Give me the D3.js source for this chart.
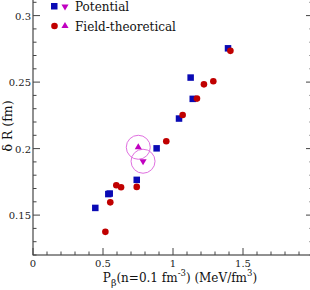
<!DOCTYPE html>
<html>
<head>
<meta charset="utf-8">
<script src="https://cdn.jsdelivr.net/npm/d3@7"></script>
<style>
  body { margin: 0; background: #fff; }
  svg { display: block; }
</style>
</head>
<body>
<svg id="chart" width="310" height="290"></svg>
<script>
// data: [P_beta, delta R]
const potential = [
  [1.393, 0.2754], [1.126, 0.2534], [1.141, 0.2374], [1.043, 0.2226],
  [0.883, 0.2002], [0.741, 0.1765], [0.538, 0.1658], [0.548, 0.1662],
  [0.445, 0.1554]
];
const fieldTheo = [
  [1.41, 0.2735], [1.221, 0.2483], [1.288, 0.2506], [1.171, 0.2376],
  [1.069, 0.2253], [0.952, 0.2055], [0.741, 0.1712], [0.595, 0.1724],
  [0.629, 0.1709], [0.552, 0.1596], [0.517, 0.1374]
];
const potentialAvg = [[0.786, 0.1905]];
const fieldAvg = [[0.752, 0.2010]];
const xTicks = [0, 0.5, 1, 1.5];
const yTicks = [0.15, 0.2, 0.25, 0.3];
const legendNames = ["Potential", "Field-theoretical"];

const CONFIG = {
  left: 33, right: 313, top: -11, bottom: 255,
  font: "'DejaVu Serif', 'Liberation Serif', serif",
  blue: '#0a0ab4', red: '#c00000', magenta: '#c000c0', ring: '#e070e0'
};

const svg = d3.select('#chart');
const x = d3.scaleLinear().domain([0, 2]).range([CONFIG.left, CONFIG.right]);
const y = d3.scaleLinear().domain([0.12, 0.32]).range([CONFIG.bottom, CONFIG.top]);

// frame
svg.append('rect')
  .attr('x', CONFIG.left).attr('y', CONFIG.top)
  .attr('width', CONFIG.right - CONFIG.left).attr('height', CONFIG.bottom - CONFIG.top)
  .attr('fill', 'none').attr('stroke', '#222').attr('stroke-width', 1);

const xMinor = d3.range(0, 2.001, 0.1);
const yMinor = d3.range(0.12, 0.3201, 0.01);

// ticks pointing inward
const ticks = svg.append('g').attr('stroke', '#444').attr('stroke-width', 1);
xMinor.forEach(v => {
  const major = xTicks.some(t => Math.abs(t - v) < 1e-6);
  const len = major ? 7 : 3.5;
  ticks.append('line').attr('x1', x(v)).attr('x2', x(v)).attr('y1', CONFIG.bottom).attr('y2', CONFIG.bottom - len);
});
yMinor.forEach(v => {
  const major = yTicks.some(t => Math.abs(t - v) < 1e-6);
  const len = major ? 7 : 3.5;
  ticks.append('line').attr('y1', y(v)).attr('y2', y(v)).attr('x1', CONFIG.left).attr('x2', CONFIG.left + len);
  ticks.append('line').attr('y1', y(v)).attr('y2', y(v)).attr('x1', CONFIG.right).attr('x2', CONFIG.right - len);
});

svg.selectAll('.xLabel').data(xTicks).enter().append('text')
  .text(d => d)
  .attr('x', d => x(d)).attr('y', CONFIG.bottom + 12)
  .attr('font-family', CONFIG.font)
  .attr('font-size', 10).attr('text-anchor', 'middle').attr('fill', '#222');

svg.selectAll('.yLabel').data(yTicks).enter().append('text')
  .text(d => d)
  .attr('x', CONFIG.left - 2).attr('y', d => y(d) + 4)
  .attr('font-family', CONFIG.font)
  .attr('font-size', 10).attr('text-anchor', 'end').attr('fill', '#222');

// axis titles
const xt = svg.append('text')
  .attr('x', 180).attr('y', 282)
  .attr('font-family', CONFIG.font)
  .attr('font-size', 12).attr('text-anchor', 'middle').attr('fill', '#111');
xt.append('tspan').text('P');
xt.append('tspan').text('β').attr('font-size', 9.5).attr('dy', 4);
xt.append('tspan').text('(n=0.1 fm').attr('dy', -4);
xt.append('tspan').text('-3').attr('font-size', 8.5).attr('dy', -6);
xt.append('tspan').text(') (MeV/fm').attr('dy', 6);
xt.append('tspan').text('3').attr('font-size', 8.5).attr('dy', -6);
xt.append('tspan').text(')').attr('dy', 6);

svg.append('text')
  .text('δ R (fm)')
  .attr('transform', 'translate(12,126) rotate(-90)')
  .attr('font-family', CONFIG.font)
  .attr('font-size', 12.5).attr('text-anchor', 'middle').attr('fill', '#111');

// rings around averages
svg.selectAll('.ring').data(fieldAvg.concat(potentialAvg)).enter().append('circle')
  .attr('cx', d => x(d[0])).attr('cy', d => y(d[1]))
  .attr('r', 12).attr('fill', 'none').attr('stroke', CONFIG.ring).attr('stroke-width', 1);

const sq = 6.5;
svg.selectAll('.pot').data(potential).enter().append('rect')
  .attr('x', d => x(d[0]) - sq / 2).attr('y', d => y(d[1]) - sq / 2)
  .attr('width', sq).attr('height', sq).attr('fill', CONFIG.blue);

svg.selectAll('.ft').data(fieldTheo).enter().append('circle')
  .attr('cx', d => x(d[0])).attr('cy', d => y(d[1]))
  .attr('r', 3.3).attr('fill', CONFIG.red);

const triUp = d3.symbol().type(d3.symbolTriangle).size(22);
svg.selectAll('.fa').data(fieldAvg).enter().append('path')
  .attr('d', triUp)
  .attr('transform', d => `translate(${x(d[0])},${y(d[1])})`)
  .attr('fill', CONFIG.magenta);
svg.selectAll('.pa').data(potentialAvg).enter().append('path')
  .attr('d', triUp)
  .attr('transform', d => `translate(${x(d[0])},${y(d[1])}) rotate(180)`)
  .attr('fill', CONFIG.magenta);

// legend
const leg = svg.append('g');
leg.append('rect').attr('x', 51).attr('y', 3).attr('width', sq).attr('height', sq).attr('fill', CONFIG.blue);
leg.append('path').attr('d', triUp).attr('transform', 'translate(65,6.5) rotate(180)').attr('fill', CONFIG.magenta);
leg.append('circle').attr('cx', 54.5).attr('cy', 26).attr('r', 3.3).attr('fill', CONFIG.red);
leg.append('path').attr('d', triUp).attr('transform', 'translate(65,26)').attr('fill', CONFIG.magenta);
leg.selectAll('.lt').data(legendNames).enter().append('text')
  .text(d => d)
  .attr('x', 75).attr('y', (d, i) => 11 + i * 19.5)
  .attr('font-family', CONFIG.font)
  .attr('font-size', 12).attr('fill', '#111');
</script>
</body>
</html>
